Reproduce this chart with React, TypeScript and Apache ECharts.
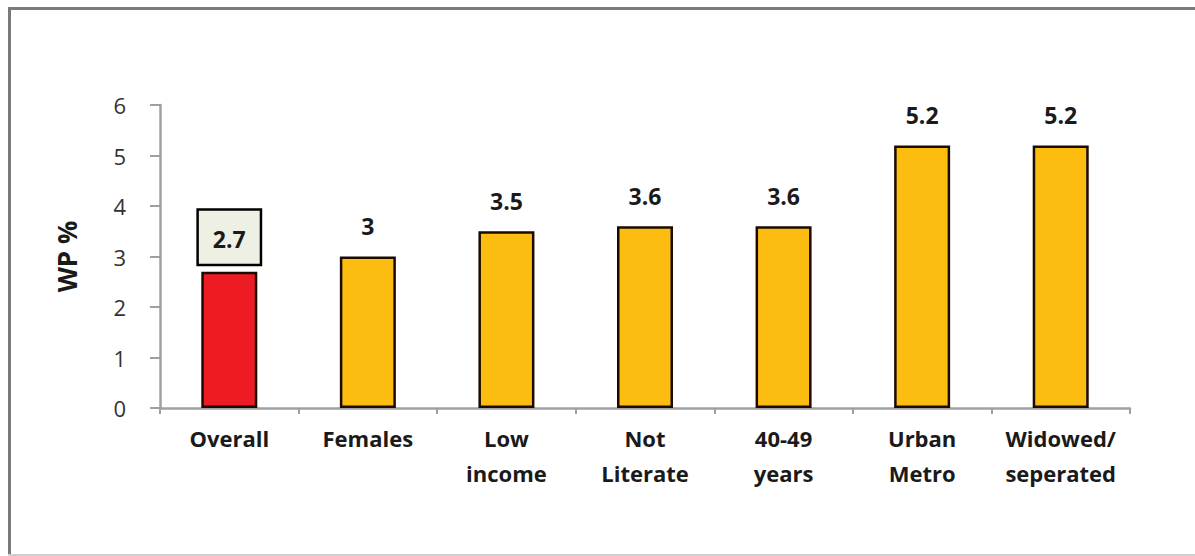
import React, { useEffect, useRef } from "react";
import * as echarts from "echarts";

const categories = [
  "Overall",
  "Females",
  "Low\nincome",
  "Not\nLiterate",
  "40-49\nyears",
  "Urban\nMetro",
  "Widowed/\nseperated",
];
const values = [2.7, 3, 3.5, 3.6, 3.6, 5.2, 5.2];
const highlightIndex = 0;
const yTicks = { min: 0, max: 6, interval: 1 };
const yName = "WP %";

const FONT = "'Open Sans', 'Noto Sans', sans-serif";

export default function App() {
  const ref = useRef<HTMLDivElement>(null);

  useEffect(() => {
    if (!ref.current) return;
    const chart = echarts.init(ref.current, null, { renderer: "svg" });

    const data = values.map((v, i) =>
      i === highlightIndex
        ? {
            value: v,
            itemStyle: { color: "#ED1C24" },
            label: {
              backgroundColor: "#EEF0E4",
              borderColor: "#000",
              borderWidth: 2.5,
              lineHeight: 23,
              padding: [17, 14, 13, 14],
              distance: 8,
            },
          }
        : { value: v }
    );

    chart.setOption({
      animation: false,
      backgroundColor: "#fff",
      graphic: [
        {
          type: "line",
          shape: { x1: 9.5, y1: 8, x2: 9.5, y2: 556 },
          style: { stroke: "#7a7a7a", lineWidth: 3 },
        },
        {
          type: "line",
          shape: { x1: 8, y1: 8.5, x2: 1195, y2: 8.5 },
          style: { stroke: "#7a7a7a", lineWidth: 3 },
        },
        {
          type: "line",
          shape: { x1: 8, y1: 555, x2: 1195, y2: 555 },
          style: { stroke: "#cfcfcf", lineWidth: 2 },
        },
      ],
      grid: { left: 160, right: 65, top: 105, bottom: 148 },
      xAxis: {
        type: "category",
        data: categories,
        axisLine: { lineStyle: { color: "#a0a0a0", width: 2.5 } },
        axisTick: {
          show: true,
          alignWithLabel: false,
          length: 6,
          lineStyle: { color: "#a0a0a0", width: 2 },
        },
        axisLabel: {
          color: "#1a1a1a",
          fontFamily: FONT,
          fontWeight: "bold",
          fontSize: 22,
          lineHeight: 35,
          margin: 12,
          interval: 0,
        },
      },
      yAxis: {
        type: "value",
        min: yTicks.min,
        max: yTicks.max,
        interval: yTicks.interval,
        name: yName,
        nameLocation: "middle",
        nameGap: 80,
        nameRotate: 90,
        nameTextStyle: {
          color: "#1a1a1a",
          fontFamily: FONT,
          fontWeight: "bold",
          fontSize: 26,
        },
        splitLine: { show: false },
        axisLine: { show: true, lineStyle: { color: "#a0a0a0", width: 2.5 } },
        axisTick: {
          show: true,
          inside: false,
          length: 10,
          lineStyle: { color: "#a0a0a0", width: 2 },
        },
        axisLabel: {
          color: "#333",
          fontFamily: FONT,
          fontSize: 22,
          margin: 34,
        },
      },
      series: [
        {
          type: "bar",
          data,
          barWidth: 56,
          itemStyle: {
            color: "#FDBD10",
            borderColor: "#1a0a00",
            borderWidth: 2.5,
          },
          label: {
            show: true,
            position: "top",
            distance: 19,
            color: "#1a1a1a",
            fontFamily: FONT,
            fontWeight: "bold",
            fontSize: 23,
          },
        },
      ],
    });

    return () => chart.dispose();
  }, []);

  return (
    <div
      ref={ref}
      style={{ position: "fixed", left: 0, top: 0, width: 1195, height: 556 }}
    />
  );
}
